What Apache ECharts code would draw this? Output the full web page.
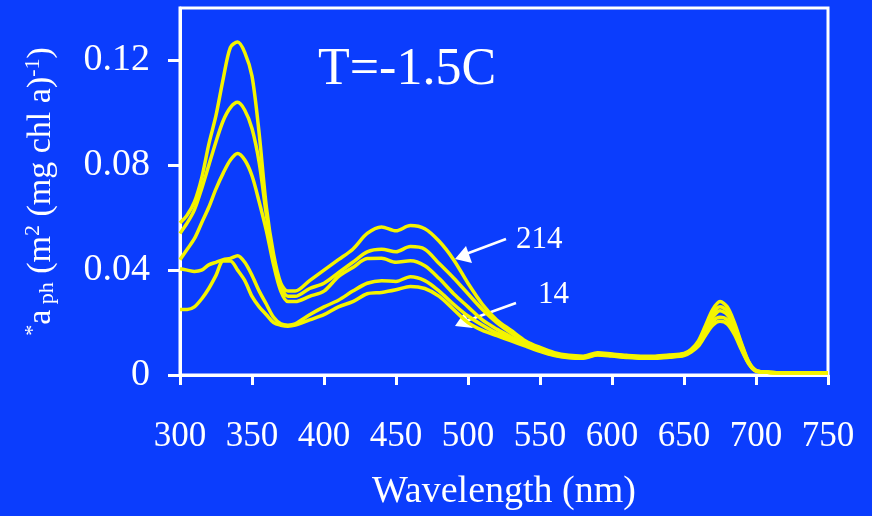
<!DOCTYPE html>
<html>
<head>
<meta charset="utf-8">
<script src="https://cdn.jsdelivr.net/npm/echarts@6/dist/echarts.min.js"></script>
<style>
html,body{margin:0;padding:0;background:#0b3dfd;}
#chart{width:872px;height:516px;}
</style>
</head>
<body>
<div id="chart"></div>
<script>
// Wavelength grid (nm)
const wavelengths = [300,305,310,315,320,325,330,335,340,345,350,355,360,365,370,375,380,390,400,410,420,430,440,450,460,470,480,490,500,510,520,530,540,550,560,570,580,590,600,610,620,630,640,650,655,660,665,670,675,680,685,690,695,700,710,720,730,740,750];

// Specific absorption spectra a*ph (m^2 (mg chl a)^-1)
const curveA = [0.058,0.061,0.066,0.075,0.088,0.099,0.113,0.125,0.127,0.123,0.114,0.092,0.064,0.046,0.035,0.032,0.032,0.036,0.040,0.044,0.048,0.054,0.0565,0.055,0.057,0.0558,0.051,0.044,0.035,0.027,0.021,0.017,0.013,0.0105,0.0085,0.0075,0.0072,0.0085,0.008,0.0075,0.0072,0.0072,0.0076,0.0082,0.0098,0.013,0.019,0.025,0.028,0.026,0.020,0.012,0.005,0.0018,0.001,0.0009,0.0009,0.0009,0.0009];
const curveB = [0.054,0.058,0.063,0.071,0.080,0.089,0.097,0.102,0.104,0.101,0.094,0.081,0.061,0.044,0.034,0.030,0.030,0.033,0.035,0.039,0.043,0.047,0.048,0.047,0.049,0.048,0.0425,0.037,0.031,0.025,0.020,0.016,0.0125,0.0098,0.008,0.0072,0.007,0.0082,0.0078,0.0073,0.007,0.007,0.0074,0.008,0.0095,0.0125,0.018,0.0235,0.026,0.0245,0.019,0.0115,0.0048,0.0017,0.001,0.0009,0.0009,0.0009,0.0009];
const curveC = [0.044,0.048,0.052,0.058,0.064,0.071,0.077,0.082,0.0845,0.082,0.076,0.066,0.055,0.042,0.032,0.028,0.028,0.030,0.032,0.0375,0.041,0.0444,0.0445,0.043,0.0436,0.0417,0.0368,0.031,0.026,0.021,0.0175,0.0145,0.0118,0.0095,0.0078,0.007,0.0068,0.008,0.0076,0.0071,0.0068,0.0068,0.0072,0.0078,0.0092,0.012,0.017,0.022,0.0245,0.023,0.018,0.011,0.0046,0.0016,0.001,0.0009,0.0009,0.0009,0.0009];
const curveD = [0.0405,0.040,0.0395,0.040,0.042,0.043,0.044,0.0445,0.0455,0.043,0.038,0.032,0.027,0.022,0.0195,0.019,0.0195,0.023,0.026,0.0285,0.032,0.035,0.036,0.0357,0.0375,0.036,0.032,0.027,0.0225,0.019,0.016,0.014,0.012,0.0095,0.0076,0.0068,0.0066,0.0078,0.0074,0.0069,0.0066,0.0066,0.007,0.0076,0.009,0.0115,0.016,0.0205,0.022,0.021,0.0165,0.010,0.0044,0.0015,0.001,0.0009,0.0009,0.0009,0.0009];
const curveE = [0.025,0.025,0.026,0.029,0.033,0.038,0.0435,0.0435,0.040,0.036,0.030,0.026,0.023,0.020,0.019,0.0186,0.019,0.021,0.023,0.026,0.028,0.031,0.0315,0.0325,0.0338,0.033,0.030,0.025,0.020,0.017,0.015,0.013,0.011,0.009,0.0074,0.0066,0.0064,0.0076,0.0072,0.0067,0.0064,0.0064,0.0068,0.0074,0.0088,0.011,0.0152,0.019,0.0205,0.0195,0.0155,0.0095,0.0042,0.0015,0.001,0.0009,0.0009,0.0009,0.0009];

// Axis ticks
const xTicks = [300,350,400,450,500,550,600,650,700,750];
const yTicks = [0,0.04,0.08,0.12];

const titleText = 'T=-1.5C';
const annotTop = '214';
const annotBottom = '14';

const serif = '"Liberation Serif","Times New Roman",serif';
const yellow = '#f4f400';
const white = '#ffffff';

function pairs(vals){ return wavelengths.map((w,i)=>[w,vals[i]]); }
const allCurves = [curveA,curveB,curveC,curveD,curveE];

const chart = echarts.init(document.getElementById('chart'));
chart.setOption({
  backgroundColor:'#0b3dfd',
  animation:false,
  grid:{left:180,right:44,top:8,bottom:139,show:true,borderColor:white,borderWidth:3,backgroundColor:'transparent'},
  xAxis:{
    type:'value',min:300,max:750,interval:50,
    name:'Wavelength (nm)',nameLocation:'middle',nameGap:98,
    nameTextStyle:{color:white,fontFamily:serif,fontSize:38},
    axisLine:{lineStyle:{color:white,width:3}},
    axisTick:{show:true,length:10,lineStyle:{color:white,width:3},customValues:xTicks},
    axisLabel:{color:white,fontFamily:serif,fontSize:35,margin:44,customValues:xTicks},
    splitLine:{show:false}
  },
  yAxis:{
    type:'value',min:0,max:0.14,interval:0.04,
    name:'{sup|*}{base|a}{sub| ph}{base| (m}{sup|2}{base| (mg chl a)}{sup|-1}{base|)}',
    nameLocation:'middle',nameRotate:90,nameGap:120,
    nameTextStyle:{color:white,fontFamily:serif,fontSize:34,
      rich:{
        base:{color:white,fontFamily:serif,fontSize:34},
        sup:{color:white,fontFamily:serif,fontSize:22,verticalAlign:'top',padding:[0,0,16,0]},
        sub:{color:white,fontFamily:serif,fontSize:22,padding:[12,0,0,0]}
      }},
    axisLine:{show:true,lineStyle:{color:white,width:3}},
    axisTick:{show:true,length:12,lineStyle:{color:white,width:3},customValues:yTicks},
    axisLabel:{color:white,fontFamily:serif,fontSize:38,margin:30,customValues:yTicks,
      formatter:v=> v===0 ? '0' : String(+v.toFixed(2))},
    splitLine:{show:false}
  },
  series: allCurves.map(c=>({
    type:'line',data:pairs(c),showSymbol:false,smooth:0.3,
    lineStyle:{color:yellow,width:3.5},z:3
  })),
  graphic:[
    {type:'text',left:318,top:44,style:{text:titleText,fill:white,font:'52px '+serif}},
    {type:'text',left:516,top:224,style:{text:annotTop,fill:white,font:'31px '+serif}},
    {type:'text',left:538,top:279,style:{text:annotBottom,fill:white,font:'31px '+serif}},
    {type:'line',shape:{x1:506,y1:239,x2:466,y2:254},style:{stroke:white,lineWidth:2.5}},
    {type:'polygon',shape:{points:[[455,259],[466,246],[472,263]]},style:{fill:white}},
    {type:'line',shape:{x1:516,y1:303,x2:466,y2:321},style:{stroke:white,lineWidth:2.5}},
    {type:'polygon',shape:{points:[[455,326],[464,313],[473,328]]},style:{fill:white}}
  ]
});
</script>
</body>
</html>
